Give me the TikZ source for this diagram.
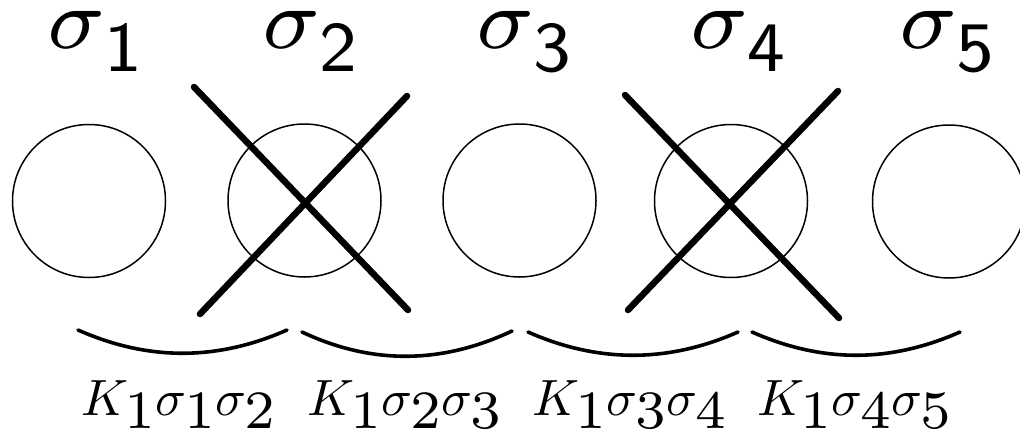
\documentclass[tikz,border=0pt]{standalone}
\font\topsig=cmmi7 at 86pt
\font\topdig=cmss8 at 71pt
\font\botmi=cmmi10 at 51pt
\font\botdig=cmr7 at 54pt
\tikzset{
  site/.style={draw, circle, line width=1.5pt, minimum size=153pt, inner sep=0pt},
  cross/.style={line width=6.5pt, line cap=round},
  bond/.style={line width=3.6pt, line cap=round},
  toplab/.style={anchor=base, inner sep=0pt},
  botlab/.style={anchor=base, inner sep=0pt}
}
\newcommand{\sitelab}[1]{{\topsig\char27}\kern1pt\raisebox{-23pt}{\topdig #1}}
\newcommand{\lowd}[1]{\raisebox{-13pt}{\botdig #1}}
\newcommand{\bondlab}[2]{{\botmi K}\lowd{1}{\botmi\char27}\lowd{#1}{\botmi\char27}\lowd{#2}}
\begin{document}
\begin{tikzpicture}[x=1pt,y=-1pt]
\useasboundingbox[fill=white] (0,0) rectangle (1020,431);
% sites
\node[site] (c1) at (89,201) {};
\node[site] (c2) at (304.5,200.5) {};
\node[site] (c3) at (519.5,200.5) {};
\node[site] (c4) at (731,201) {};
\node[site] (c5) at (949,201.5) {};
% labels
\node[toplab] (s1) at (94,48) {\sitelab{1}};
\node[toplab] (s2) at (309,48) {\sitelab{2}};
\node[toplab] (s3) at (523,48) {\sitelab{3}};
\node[toplab] (s4) at (737,48) {\sitelab{4}};
\node[toplab] (s5) at (946,48) {\sitelab{5}};
% crosses
\coordinate (a1) at (194,87);  \coordinate (b1) at (408,310);
\coordinate (a2) at (407,96);  \coordinate (b2) at (200,314);
\coordinate (a3) at (625,95);  \coordinate (b3) at (839,318);
\coordinate (a4) at (838,91);  \coordinate (b4) at (628,310);
\draw[cross] (a1) -- (b1);
\draw[cross] (a2) -- (b2);
\draw[cross] (a3) -- (b3);
\draw[cross] (a4) -- (b4);
% bonds
\coordinate (p1) at (78,330);  \coordinate (q1) at (287,330);
\coordinate (p2) at (302,332); \coordinate (q2) at (512,331);
\coordinate (p3) at (528,332); \coordinate (q3) at (738,332);
\coordinate (p4) at (752,332); \coordinate (q4) at (960,332);
\draw[bond] (p1) .. controls +(70,31) and +(-70,31) .. (q1);
\draw[bond] (p2) .. controls +(70,33) and +(-70,33) .. (q2);
\draw[bond] (p3) .. controls +(70,31) and +(-70,31) .. (q3);
\draw[bond] (p4) .. controls +(70,31) and +(-70,31) .. (q4);
\node[botlab] (k1) at (178,415) {\bondlab{1}{2}};
\node[botlab] (k2) at (404,415) {\bondlab{2}{3}};
\node[botlab] (k3) at (629,415) {\bondlab{3}{4}};
\node[botlab] (k4) at (854,415) {\bondlab{4}{5}};
\end{tikzpicture}
\end{document}
